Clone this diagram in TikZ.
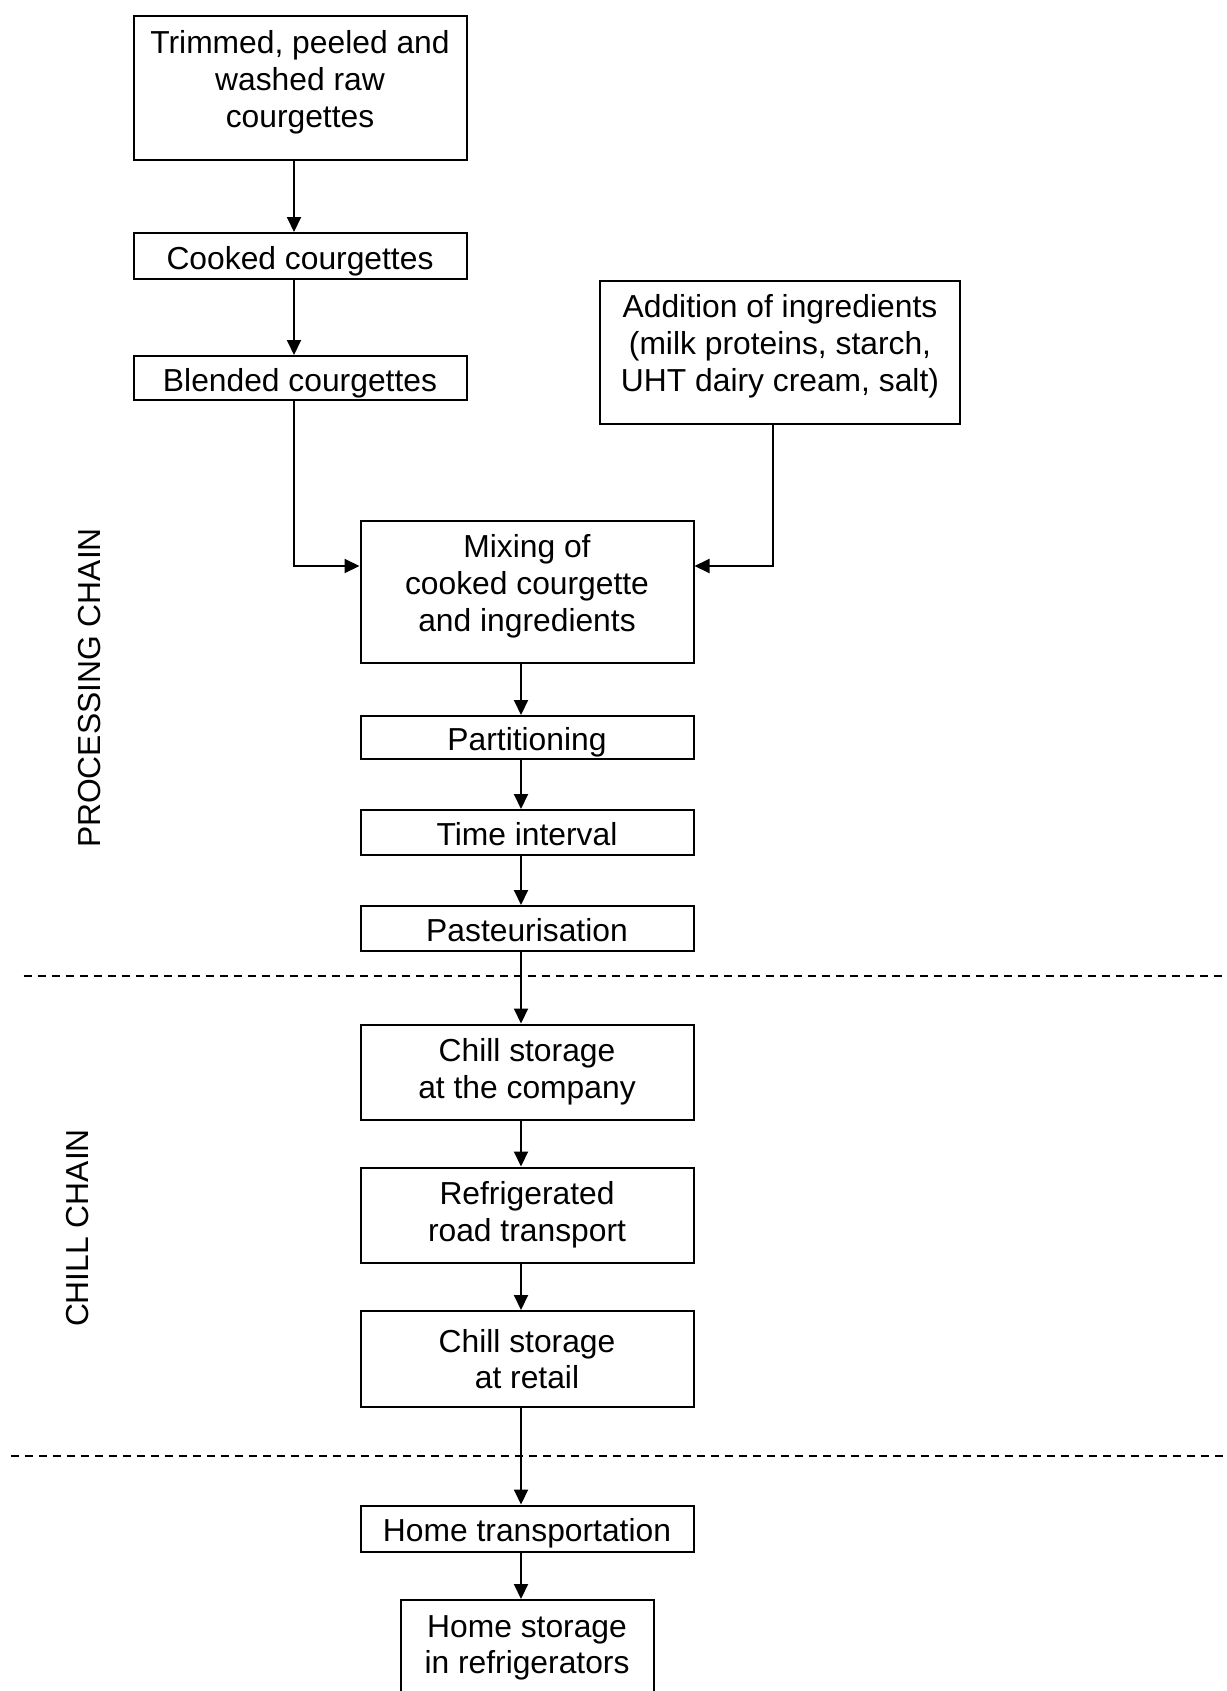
\documentclass[tikz,border=0pt]{standalone}
\usepackage{fontspec}
\setmainfont{Liberation Sans}
\usetikzlibrary{arrows.meta}

\begin{document}
\begin{tikzpicture}
[x=0.5pt,y=-0.5pt,
  stepbox/.style={draw,line width=1pt,align=center,inner sep=0pt,
    font=\fontsize{15.9pt}{18.3pt}\selectfont},%
  linebox/.style={stepbox,text height=16.3pt,text depth=3.3pt},%
  tallbox/.style={stepbox,text depth=9.1pt},%
  sidelabel/.style={rotate=90,inner sep=0pt,font=\fontsize{15.9pt}{18.3pt}\selectfont},%
  flowarrow/.style={-{Triangle[length=7.5pt,width=7pt]},line width=1pt},%
  divider/.style={line width=1pt,dash pattern=on 4pt off 3pt}]
\useasboundingbox (0,0) rectangle (1226,1691);
%% boxes of the flow chart
\foreach \nodename/\x/\y/\w/\h/\look/\txt in {
  raw/300/88/333/143/tallbox/{Trimmed, peeled and\\washed raw\\courgettes},
  cooked/300/256/333/46/linebox/{Cooked courgettes},
  blend/300/378/333/44/linebox/{Blended courgettes},
  add/780/352/360/143/tallbox/{Addition of ingredients\\(milk proteins, starch,\\UHT dairy cream, salt)},
  mix/527/592/333/142/tallbox/{Mixing of\\cooked courgette\\and ingredients},
  part/527/737.5/333/43/linebox/{Partitioning},
  time/527/832.5/333/45/linebox/{Time interval},
  past/527/928.5/333/45/linebox/{Pasteurisation},
  chillco/527/1072/333/95/stepbox/{Chill storage\\at the company},
  road/527/1215/333/95/stepbox/{Refrigerated\\road transport},
  retail/527/1359/333/96/stepbox/{Chill storage\\at retail},
  hometrans/527/1528.5/333/46/linebox/{Home transportation},
  homestore/527/1648/253/96/stepbox/{Home storage\\in refrigerators}} {
  \node (\nodename) at (\x,\y) [\look,minimum width=\w*0.5pt,minimum height=\h*0.5pt] {\txt};
}
%% chain labels
\node (proclabel) at (90,688) [sidelabel] {PROCESSING CHAIN};
\node (chilllabel) at (78,1228) [sidelabel] {CHILL CHAIN};
%% borders between the chains
\draw[divider] (23.7,976) -- (1226,976);
\draw[divider] (10.8,1456) -- (1226,1456);
%% arrows
\path
\foreach \startnode/\endnode in {
  raw/cooked, cooked/blend, mix/part, part/time, time/past, past/chillco,
  chillco/road, road/retail, retail/hometrans, hometrans/homestore} {
  ([xshift=-3pt]\startnode.south) edge[flowarrow] ([xshift=-3pt]\endnode.north)
};
\draw[flowarrow] ([xshift=-3pt]blend.south) |- ([yshift=13pt]mix.west);
\draw[flowarrow] ([xshift=-3.3pt]add.south) |- ([yshift=13pt]mix.east);
\end{tikzpicture}
\end{document}
